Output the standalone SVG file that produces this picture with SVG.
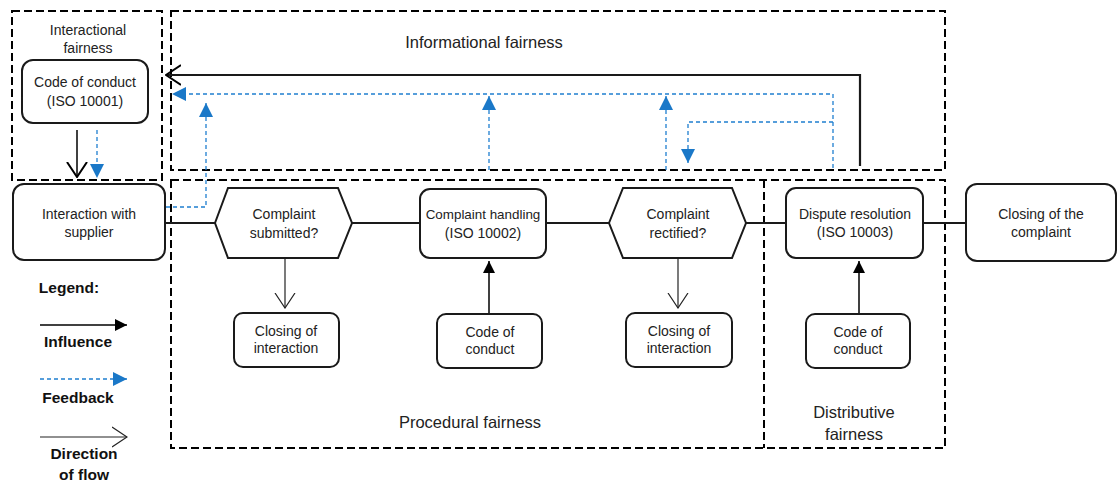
<svg xmlns="http://www.w3.org/2000/svg" width="1117" height="482" viewBox="0 0 1117 482">
  <style>
    text { font-family: "Liberation Sans", Arial, sans-serif; font-size: 14px; fill: #222; text-anchor: middle; }
    .big { font-size: 16.5px; }
    .small { font-size: 14px; }
    .tight { font-size: 13.4px; }
    .bold { font-weight: bold; font-size: 15.5px; fill: #111; }
    .node { fill: #fff; stroke: #1a1a1a; stroke-width: 2; }
    .zone { fill: none; stroke: #000; stroke-width: 2; stroke-dasharray: 8 4; }
    .flow { fill: none; stroke: #1a1a1a; stroke-width: 2.2; }
    .infl { fill: none; stroke: #000; stroke-width: 1.5; }
    .thin { fill: none; stroke: #222; stroke-width: 1.2; }
    .fb { fill: none; stroke: #1f7fd0; stroke-width: 1.3; stroke-dasharray: 4 3; }
  </style>
  <defs>
    <marker id="solidHead" viewBox="0 0 12 12" refX="12" refY="6" markerWidth="12" markerHeight="12" markerUnits="userSpaceOnUse" orient="auto">
      <path d="M0,0 L12,6 L0,12 Z" fill="#000"/>
    </marker>
    <marker id="blueHead" viewBox="0 0 12 12" refX="12" refY="6" markerWidth="14" markerHeight="14" markerUnits="userSpaceOnUse" orient="auto">
      <path d="M0,0 L12,6 L0,12 Z" fill="#1a78c8"/>
    </marker>
    <marker id="openHead" viewBox="0 0 16 22" refX="15" refY="11" markerWidth="16" markerHeight="22" markerUnits="userSpaceOnUse" orient="auto">
      <path d="M0,1 L15,11 L0,21" fill="none" stroke="#222" stroke-width="1.2"/>
    </marker>
    <marker id="openHeadBold" viewBox="0 0 16 22" refX="15" refY="11" markerWidth="16" markerHeight="22" markerUnits="userSpaceOnUse" orient="auto">
      <path d="M0,1 L15,11 L0,21" fill="none" stroke="#000" stroke-width="2"/>
    </marker>
  </defs>

  <!-- fairness zones -->
  <g id="zones">
    <rect class="zone" x="12" y="11" width="150" height="169"/>
    <rect class="zone" x="171" y="11" width="774" height="159"/>
    <rect class="zone" x="171" y="180" width="774" height="268"/>
    <line class="zone" x1="764" y1="180" x2="764" y2="448"/>
    <text class="small" x="88" y="35">Interactional</text>
    <text class="small" x="88" y="53">fairness</text>
    <text class="big" x="484" y="48">Informational fairness</text>
    <text class="big" x="470" y="428">Procedural fairness</text>
    <text class="big" x="854" y="418">Distributive</text>
    <text class="big" x="854" y="440">fairness</text>
  </g>

  <!-- connectors -->
  <g id="connectors">
    <!-- main flow -->
    <line class="flow" x1="165" y1="223" x2="215" y2="223"/>
    <line class="flow" x1="352" y1="223" x2="420" y2="223"/>
    <line class="flow" x1="546" y1="223" x2="609" y2="223"/>
    <line class="flow" x1="746" y1="223" x2="786" y2="223"/>
    <line class="flow" x1="923" y1="223" x2="966" y2="223"/>
    <!-- decisions to closing of interaction -->
    <line class="thin" x1="285" y1="259" x2="285" y2="308" marker-end="url(#openHead)"/>
    <line class="thin" x1="678" y1="259" x2="678" y2="308" marker-end="url(#openHead)"/>
    <!-- codes of conduct influencing handling and resolution -->
    <line class="infl" x1="489" y1="313" x2="489" y2="261" marker-end="url(#solidHead)"/>
    <line class="infl" x1="859" y1="313" x2="859" y2="261" marker-end="url(#solidHead)"/>
    <!-- ISO 10001 down to supplier interaction -->
    <line class="infl" x1="77" y1="130" x2="77" y2="177" stroke-width="2" marker-end="url(#openHeadBold)"/>
    <line class="fb" x1="97" y1="130" x2="97" y2="178" marker-end="url(#blueHead)"/>
    <!-- dispute resolution back to ISO 10001 -->
    <polyline class="flow" points="860,166 860,75 166,75" marker-end="url(#openHeadBold)"/>
    <!-- feedback loops -->
    <polyline class="fb" points="833,168 833,94 172,94" marker-end="url(#blueHead)"/>
    <polyline class="fb" points="833,122 688,122 688,163" marker-end="url(#blueHead)"/>
    <line class="fb" x1="666" y1="170" x2="666" y2="96" marker-end="url(#blueHead)"/>
    <line class="fb" x1="489" y1="170" x2="489" y2="96" marker-end="url(#blueHead)"/>
    <polyline class="fb" points="166,207 206,207 206,103" marker-end="url(#blueHead)"/>
  </g>

  <g id="code-iso10001">
    <rect class="node" x="22" y="60" width="126" height="63" rx="11"/>
    <text x="85" y="87">Code of conduct</text>
    <text x="85" y="106">(ISO 10001)</text>
  </g>

  <g id="interaction-supplier">
    <rect class="node" x="13" y="184" width="152" height="76" rx="11"/>
    <text x="89" y="219">Interaction with</text>
    <text x="89" y="237">supplier</text>
  </g>

  <g id="complaint-submitted">
    <polygon class="node" points="215,223 228,188 338,188 352,223 338,258 228,258"/>
    <text x="284" y="219">Complaint</text>
    <text x="284" y="238">submitted?</text>
  </g>

  <g id="complaint-handling">
    <rect class="node" x="420" y="189" width="126" height="69" rx="10"/>
    <text class="tight" x="483" y="219">Complaint handling</text>
    <text x="483" y="238">(ISO 10002)</text>
  </g>

  <g id="complaint-rectified">
    <polygon class="node" points="609,223 623,188 732,188 746,223 732,258 623,258"/>
    <text x="678" y="219">Complaint</text>
    <text x="678" y="238">rectified?</text>
  </g>

  <g id="dispute-resolution">
    <rect class="node" x="786" y="188" width="137" height="70" rx="10"/>
    <text x="855" y="219">Dispute resolution</text>
    <text x="855" y="237">(ISO 10003)</text>
  </g>

  <g id="closing-complaint">
    <rect class="node" x="966" y="184" width="150" height="77" rx="11"/>
    <text x="1041" y="219">Closing of the</text>
    <text x="1041" y="237">complaint</text>
  </g>

  <g id="closing-interaction-1">
    <rect class="node" x="234" y="313" width="105" height="54" rx="9"/>
    <text x="286" y="336">Closing of</text>
    <text x="286" y="353">interaction</text>
  </g>

  <g id="code-conduct-2">
    <rect class="node" x="437" y="314" width="105" height="54" rx="9"/>
    <text x="490" y="337">Code of</text>
    <text x="490" y="354">conduct</text>
  </g>

  <g id="closing-interaction-2">
    <rect class="node" x="626" y="313" width="106" height="54" rx="9"/>
    <text x="679" y="336">Closing of</text>
    <text x="679" y="353">interaction</text>
  </g>

  <g id="code-conduct-3">
    <rect class="node" x="806" y="314" width="104" height="54" rx="9"/>
    <text x="858" y="337">Code of</text>
    <text x="858" y="354">conduct</text>
  </g>

  <!-- legend -->
  <g id="legend">
    <text class="bold" x="69" y="293">Legend:</text>
    <line class="infl" x1="40" y1="325" x2="127" y2="325" marker-end="url(#solidHead)"/>
    <text class="bold" x="78" y="347">Influence</text>
    <line class="fb" x1="40" y1="379" x2="127" y2="379" marker-end="url(#blueHead)"/>
    <text class="bold" x="78" y="403">Feedback</text>
    <line class="thin" x1="40" y1="437" x2="127" y2="437" marker-end="url(#openHead)"/>
    <text class="bold" x="84" y="459">Direction</text>
    <text class="bold" x="84" y="480">of flow</text>
  </g>
</svg>
